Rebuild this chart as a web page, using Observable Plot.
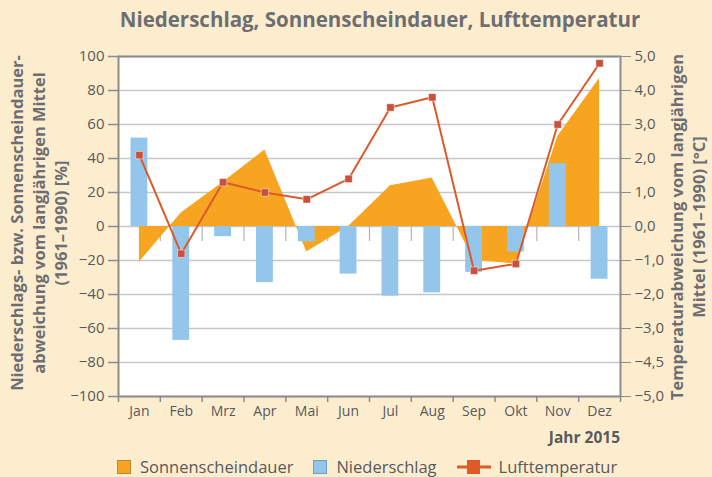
<!DOCTYPE html>
<html><head><meta charset="utf-8">
<script src="https://cdn.jsdelivr.net/npm/d3@7"></script>
<script src="https://cdn.jsdelivr.net/npm/@observablehq/plot@0.6"></script>
<style>
html,body{margin:0;padding:0;background:#fdedcf;}
#wrap{position:relative;width:712px;height:477px;overflow:hidden;font-family:"Open Sans",sans-serif;color:#58595b;}
#title{position:absolute;left:0;width:760px;top:5px;text-align:center;font-size:20.5px;font-weight:700;color:#6d6e71;}
.yl{position:absolute;font-weight:700;font-size:16.5px;color:#6d6e71;white-space:nowrap;text-align:center;line-height:22px;transform:translate(-50%,-50%) rotate(-90deg);}
#jahr{position:absolute;right:92px;top:426px;font-weight:700;font-size:15.5px;color:#58595b;}
#legend{position:absolute;left:117px;top:455px;font-size:16.5px;color:#58595b;display:flex;align-items:center;white-space:nowrap;}
.sw{display:inline-block;width:14px;height:14px;margin-right:9px;box-sizing:border-box;}
.item{display:flex;align-items:center;margin-right:20px;}
svg{position:absolute;left:0;top:0;}
</style></head>
<body>
<div id="wrap">
<div id="title">Niederschlag, Sonnenscheindauer, Lufttemperatur</div>
<div class="yl" style="left:39px;top:223px;">Niederschlags- bzw. Sonnenscheindauer-<br>abweichung vom langjährigen Mittel<br>(1961–1990) [%]</div>
<div class="yl" style="left:688px;top:227px;">Temperaturabweichung vom langjährigen<br>Mittel (1961–1990) [°C]</div>
<div id="jahr">Jahr 2015</div>
<div id="legend">
 <span class="item"><span class="sw" style="background:#f7a520;border:1.5px solid #b98a3a"></span>Sonnenscheindauer</span>
 <span class="item"><span class="sw" style="background:#93c6ea;border:1.5px solid #6f9fc4"></span>Niederschlag</span>
 <span class="item"><svg width="34" height="14" style="position:static;margin-right:8px"><line x1="0" x2="34" y1="7" y2="7" stroke="#e05a28" stroke-width="3"/><rect x="10" y="0" width="13" height="14" fill="#e05a28"/></svg>Lufttemperatur</span>
</div>
</div>
<script>
const months = ["Jan","Feb","Mrz","Apr","Mai","Jun","Jul","Aug","Sep","Okt","Nov","Dez"];
const sunshine = [-21, 8, 26, 45, -15, 0, 24, 28.5, -20, -22, 53, 87];
const precipitation = [52, -67, -6, -33, -9, -28, -41, -39, -27, -15, 37, -31];
const temperature = [2.1, -0.8, 1.3, 1.0, 0.8, 1.4, 3.5, 3.8, -1.3, -1.1, 3.0, 4.8];
const leftTicks = [-100,-80,-60,-40,-20,0,20,40,60,80,100];
const rightTickLabels = ["−5,0","−4,5","−3,0","−2,0","−1,0","0,0","1,0","2,0","3,0","4,0","5,0"];

const data = months.map((m,i)=>({idx:i+1, month:m, sun:sunshine[i], pre:precipitation[i], temp:temperature[i]}));
const boundaries = d3.range(0.5, 12.6, 1);
const innerBounds = boundaries.slice(1,-1);
const tempScale = 20; // 1 °C on right axis = 20 % on left axis

const chart = Plot.plot({
  width: 712, height: 477,
  marginTop: 56, marginBottom: 81, marginLeft: 118, marginRight: 92,
  style: {background: "transparent", fontFamily: "Open Sans, sans-serif", fontSize: "15px", color: "#58595b"},
  x: {type: "linear", domain: [0.5, 12.5]},
  y: {domain: [-100, 100]},
  marks: [
    Plot.frame({fill: "white", stroke: null}),
    Plot.ruleY(leftTicks, {stroke: "#c6c6c6", strokeWidth: 1.6}),
    Plot.ruleX(innerBounds, {y1: 0, y2: -8.8, stroke: "#b5b5b5", strokeWidth: 1.2}),
    Plot.areaY(data, {x: "idx", y: "sun", fill: "#f7a520"}),
    Plot.rectY(data, {x1: d => d.idx - 0.5, x2: d => d.idx + 0.5, y: "pre", fill: "#93c6ea", insetLeft: 12.5, insetRight: 12.5}),
    Plot.line(data, {x: "idx", y: d => d.temp * tempScale, stroke: "#dc5a2a", strokeWidth: 2}),
    Plot.dot(data, {x: "idx", y: d => d.temp * tempScale, symbol: "square", r: 4.2, fill: "#c9503c", stroke: "white", strokeWidth: 0.5}),
    Plot.frame({stroke: "#8c8c8c", strokeWidth: 2}),
    Plot.axisY({ticks: leftTicks, tickSize: 10, tickPadding: 4, label: null, stroke: "#8c8c8c", strokeWidth: 1.5, fontSize: 15}),
    Plot.axisY({anchor: "right", ticks: leftTicks, tickSize: 10, tickPadding: 4, label: null, stroke: "#8c8c8c", fontSize: 15,
      tickFormat: d => rightTickLabels[leftTicks.indexOf(d)]}),
    Plot.axisX({ticks: boundaries, tickSize: 6, tickFormat: () => "", label: null, stroke: "#8c8c8c", strokeWidth: 1.5}),
    Plot.axisX({ticks: data.map(d => d.idx), tickSize: 0, tickPadding: 10, tickFormat: d => months[d-1], label: null, fontSize: 14})
  ]
});
document.getElementById("wrap").prepend(chart);
</script>
</body></html>
